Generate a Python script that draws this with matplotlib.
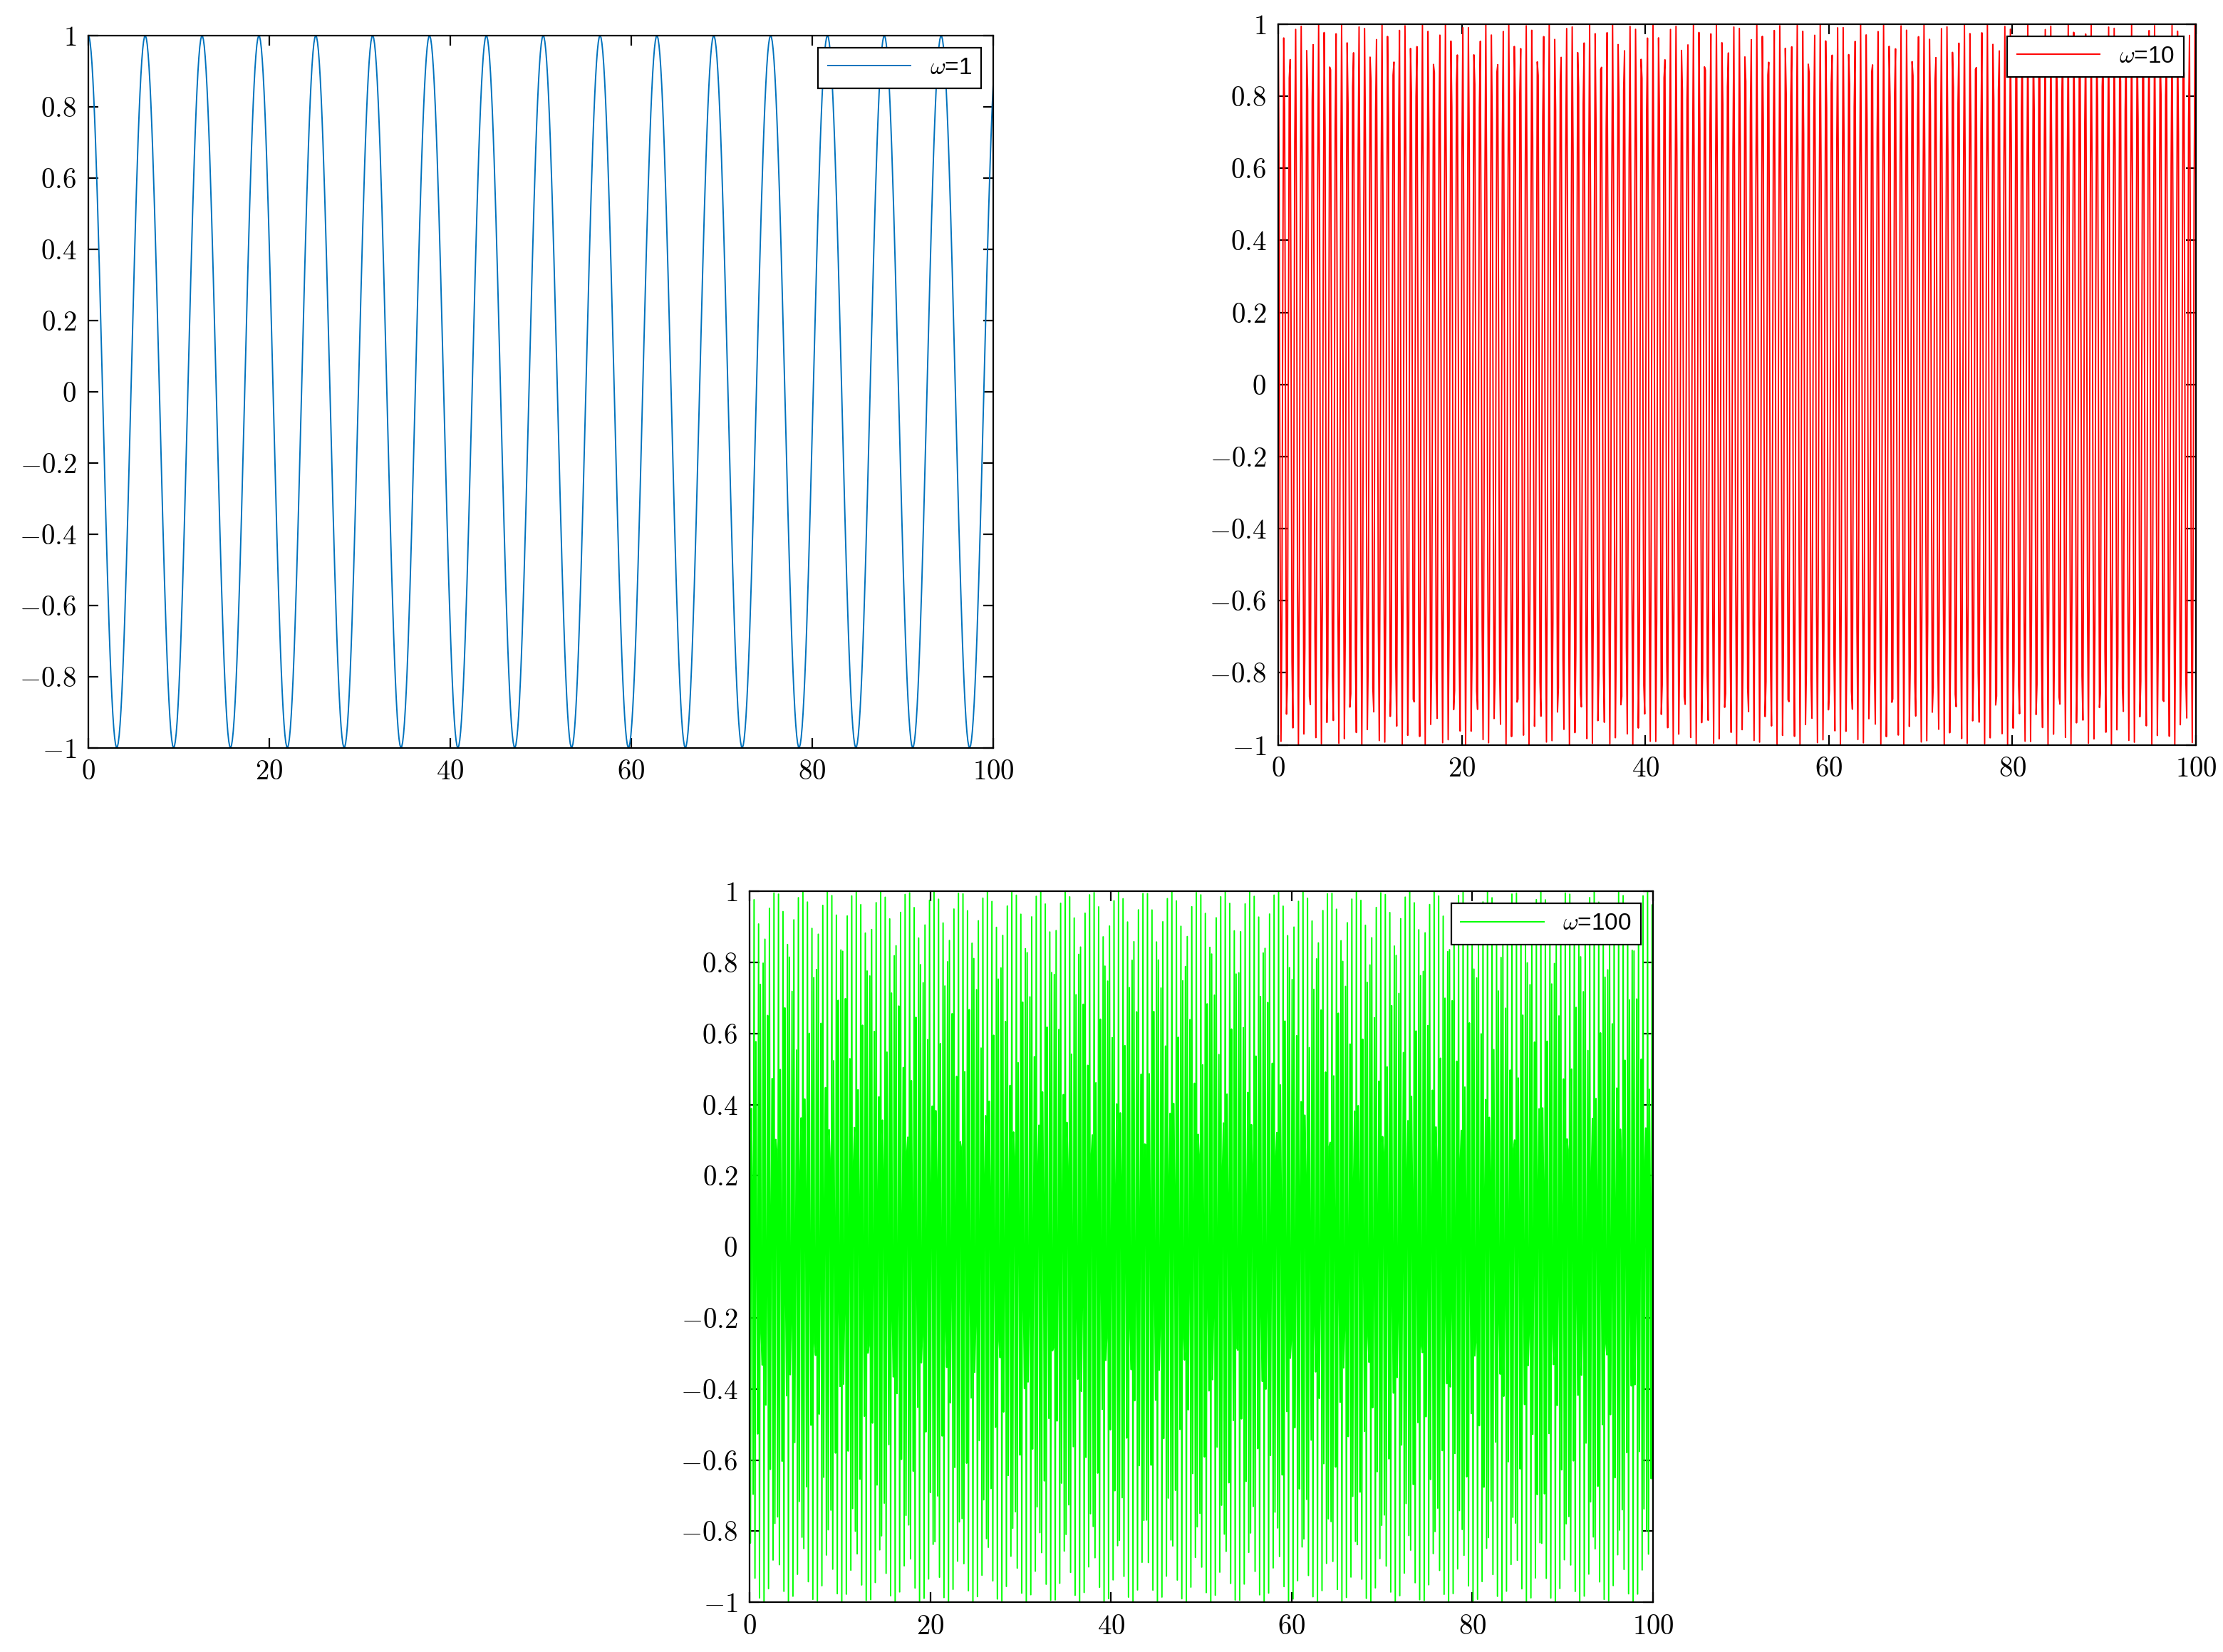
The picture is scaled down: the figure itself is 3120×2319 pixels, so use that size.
import numpy as np
import matplotlib.pyplot as plt
from matplotlib.ticker import FuncFormatter

plt.rcParams['mathtext.fontset'] = 'cm'
plt.rcParams['font.family'] = ['Liberation Sans', 'DejaVu Sans']

omegas = [1, 10, 100]
colors = ['#0072BD', '#FF0000', '#00FF00']
labels = [r'$\omega$=1', r'$\omega$=10', r'$\omega$=100']
t = np.linspace(0, 100, 1000)

W, H = 1560, 1160
boxes = [(62, 697, 25, 525), (897, 1541, 17, 523), (526, 1160, 626, 1125)]

fig = plt.figure(figsize=(15.6, 11.595), dpi=200)

def fmt(v, pos):
    v = round(v, 6)
    if v == 0:
        v = 0.0
    return r'$%g$' % v

for (l, r, tp, b), w, c, lab in zip(boxes, omegas, colors, labels):
    ax = fig.add_axes([l / W, 1 - b / H, (r - l) / W, (b - tp) / H])
    ax.plot(t, np.cos(w * t), color=c, lw=0.7, label=lab)
    ax.set_xlim(0, 100)
    ax.set_ylim(-1, 1)
    ax.set_xticks(np.arange(0, 101, 20))
    ax.set_yticks(np.round(np.arange(-1, 1.01, 0.2), 6))
    ax.xaxis.set_major_formatter(FuncFormatter(fmt))
    ax.yaxis.set_major_formatter(FuncFormatter(fmt))
    ax.tick_params(direction='in', top=True, right=True, labelsize=14, length=5, pad=6)
    leg = ax.legend(loc='upper right', fontsize=12, fancybox=False, framealpha=1,
                    edgecolor='black', handlelength=3.5)
    leg.get_frame().set_linewidth(0.8)

fig.savefig('out.png')
